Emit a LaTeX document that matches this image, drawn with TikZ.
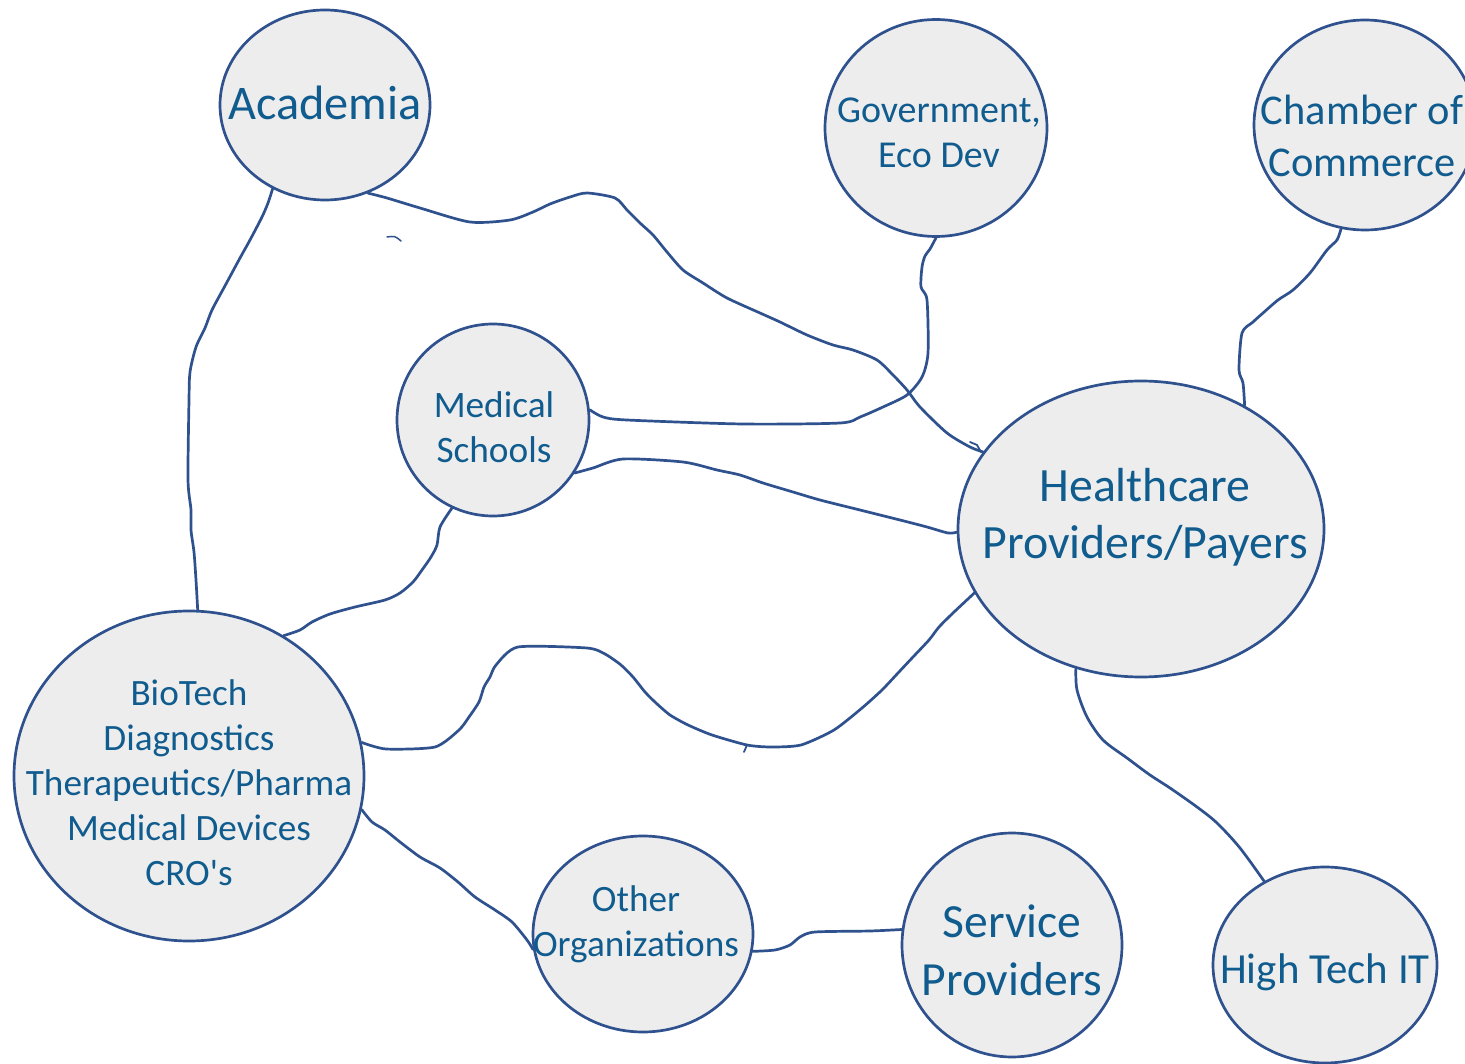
\documentclass[tikz,border=0pt]{standalone}
\usepackage{fontspec}
\setmainfont{Carlito}
\usetikzlibrary{shapes.geometric}
\definecolor{edgeblue}{RGB}{47,82,143}
\definecolor{txtblue}{RGB}{16,92,142}
\definecolor{bubblefill}{RGB}{237,237,237}
\tikzset{
  bubble/.style={ellipse, draw=edgeblue, fill=bubblefill, line width=2.7pt, inner sep=0pt},
  lbl/.style={text=txtblue, align=center, inner sep=0pt},
  conn/.style={draw=edgeblue, line width=2.7pt, line cap=round, line join=round},
  pen/.style={draw=edgeblue, line width=1.8pt, line cap=round}
}
\newcommand\fsz[2]{\fontsize{#1}{#2}\selectfont}
\begin{document}
\begin{tikzpicture}[x=1pt,y=-1pt]
\fill[white] (0,0) rectangle (1465,1064);
\clip (0,0) rectangle (1465,1064);

% bubbles
\node[bubble, minimum width=210, minimum height=190] (acad) at (325,105) {};
\node[bubble, minimum width=222, minimum height=217] (gov) at (936,128) {};
\node[bubble, minimum width=222, minimum height=210] (cham) at (1365,125) {};
\node[bubble, minimum width=192, minimum height=192] (med) at (493,420) {};
\node[bubble, minimum width=366, minimum height=296] (hc) at (1141,529) {};
\node[bubble, minimum width=350, minimum height=330] (bio) at (189,776) {};
\node[bubble, minimum width=220, minimum height=196] (oth) at (643,934) {};
\node[bubble, minimum width=220, minimum height=224] (srv) at (1012,945) {};
\node[bubble, minimum width=224, minimum height=196] (hti) at (1325,965) {};

% labels
\node[lbl, font=\fsz{48.3}{58}] (acadT) at (325,103) {Academia};
\node[lbl, font=\fsz{38}{45}] (govT) at (939,133) {Government,\\Eco Dev};
\node[lbl, font=\fsz{42.4}{52}] (chamT) at (1362,136) {Chamber of\\Commerce};
\node[lbl, font=\fsz{37.3}{45}] (medT) at (494,427) {Medical\\Schools};
\node[lbl, font=\fsz{47.8}{57}] (hcT) at (1145,517) {Healthcare\\Providers/Payers};
\node[lbl, font=\fsz{37.2}{45}] (bioT) at (189,783) {BioTech\\Diagnostics\\Therapeutics/Pharma\\Medical Devices\\CRO\textquotesingle s};
\node[lbl, font=\fsz{37.2}{45}] (othT) at (636,924) {Other\\Organizations};
\node[lbl, font=\fsz{47.6}{58}] (srvT) at (1012,950) {Service\\Providers};
\node[lbl, font=\fsz{42.9}{50}] (htiT) at (1325,972) {High Tech IT};

% connectors
% Academia -> BioTech
\draw[conn] plot[smooth, tension=0.45] coordinates {(acad.238) (268,203) (262,217) (250,240) (240,258) (226,284) (212,310) (205,328) (196,347) (190,372) (189,400) (188,480) (191,510) (191,530) (194,552) (196,580) (bio.87)};
% Academia -> Healthcare
\draw[conn] plot[smooth, tension=0.45] coordinates {(acad.296) (387,198) (420,208) (470,222) (510,220) (533,212) (550,204) (570,197) (587,193) (615,198) (627,210) (640,223) (653,235) (667,252) (683,270) (703,283) (727,298) (760,313) (780,322) (807,335) (833,345) (853,350) (877,360) (893,375) (907,390) (920,407) (947,433) (970,447) (hc.154)};
\draw[pen] (970,442) -- (977,445) -- (981,452);
\draw[pen, line width=1.5pt] (387,237) .. controls (395,236) .. (401,241);
% Government -> Medical Schools
\draw[conn] plot[smooth, tension=0.45] coordinates {(gov.270) (930,249) (925,256) (922,267) (921,287) (927,300) (928,353) (922,377) (907,395) (883,407) (860,417) (840,423) (743,424) (627,420) (603,417) (med.6)};
% Medical Schools -> Healthcare
\draw[conn] plot[smooth, tension=0.45] coordinates {(med.327) (593,468) (623,459) (683,462) (717,470) (740,475) (763,483) (793,492) (820,500) (860,510) (900,520) (927,527) (948,533) (hc.181)};
% Medical Schools -> BioTech
\draw[conn] plot[smooth, tension=0.45] coordinates {(med.245) (440,527) (437,545) (431,557) (422,570) (413,582) (400,593) (385,600) (355,607) (330,614) (312,622) (300,630) (bio.56)};
% BioTech -> Healthcare
\draw[conn] plot[smooth, tension=0.4] coordinates {(bio.11) (386,749) (435,747) (459,730) (469,717) (479,702) (484,687) (490,677) (496,665) (518,647) (587,648) (605,654) (621,665) (633,677) (645,692) (656,703) (670,715) (688,725) (712,735) (747,745) (771,747) (801,745) (834,730) (862,708) (882,690) (898,673) (913,657) (929,640) (939,627) (953,613) (hc.201)};
\draw[pen] (747,745) -- (744,752);
% Chamber -> Healthcare
\draw[conn] plot[smooth, tension=0.45] coordinates {(cham.257) (1337,240) (1327,250) (1310,273) (1293,290) (1278,300) (1263,313) (1253,322) (1242,333) (1239,370) (1243,383) (hc.50)};
% Healthcare -> High Tech IT
\draw[conn] plot[smooth, tension=0.5] coordinates {(hc.245) (1077,690) (1087,717) (1103,740) (1127,758) (1150,775) (1170,788) (1197,807) (1217,823) (1240,848) (hti.126)};
% BioTech -> Other Organizations
\draw[conn] plot[smooth, tension=0.45] coordinates {(bio.349) (372,822) (385,830) (400,842) (420,857) (440,868) (458,882) (475,897) (495,910) (512,922) (527,940) (oth.188)};
% Other Organizations -> Service Providers
\draw[conn] plot[smooth, tension=0.45] coordinates {(oth.351) (775,950) (790,945) (800,937) (815,932) (870,931) (srv.172)};
\end{tikzpicture}
\end{document}
